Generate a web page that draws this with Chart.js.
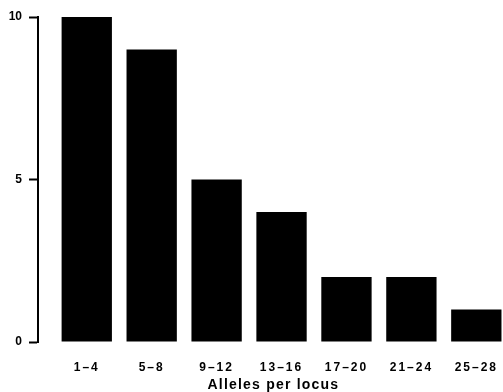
<!DOCTYPE html>
<html>
<head>
<meta charset="utf-8">
<script src="https://cdn.jsdelivr.net/npm/chart.js@4"></script>
<style>
  html, body { margin: 0; padding: 0; background: #fff; overflow: hidden; }
  #wrap { width: 503px; height: 392px; overflow: hidden; }
  canvas { display: block; }
</style>
</head>
<body>
<div id="wrap"><canvas id="c" width="511" height="392"></canvas></div>
<script>
const categories = ["1–4", "5–8", "9–12", "13–16", "17–20", "21–24", "25–28"];
const values = [10, 9, 5, 4, 2, 2, 1];
const yTicks = [0, 5, 10];
const xTitle = "Alleles per locus";

const points = values.map((v, i) => ({ x: i + 1, y: v }));

function spaced(scale, method, spacing) {
  if (scale['_sp_' + method]) return;
  const orig = scale[method].bind(scale);
  scale[method] = function (...args) {
    const ctx = scale.ctx;
    const prev = ctx.letterSpacing;
    ctx.letterSpacing = spacing;
    orig(...args);
    ctx.letterSpacing = prev;
  };
  scale['_sp_' + method] = true;
}

const spacingPlugin = {
  id: 'spacing',
  afterLayout(chart) {
    const x = chart.scales.x;
    spaced(x, 'drawLabels', '2px');
    spaced(x, 'drawTitle', '1.2px');
  }
};

new Chart(document.getElementById('c'), {
  type: 'bar',
  data: {
    datasets: [{
      data: points,
      backgroundColor: '#000',
      borderWidth: 0,
      categoryPercentage: 1,
      barPercentage: 0.775
    }]
  },
  options: {
    responsive: false,
    animation: false,
    events: [],
    layout: { padding: { top: 17, right: 0, bottom: 0, left: 0 } },
    plugins: { legend: { display: false }, tooltip: { enabled: false } },
    scales: {
      x: {
        type: 'linear',
        offset: false,
        min: 0.249,
        max: 7.5,
        afterFit(s) { s.height = 50; },
        grid: { display: false, drawTicks: false, offset: false },
        border: { display: false },
        ticks: {
          stepSize: 1,
          includeBounds: false,
          autoSkip: false,
          maxRotation: 0,
          padding: 18,
          color: '#000',
          font: { family: 'Liberation Sans', weight: 'bold', size: 12 },
          callback: (v) => Number.isInteger(v) && v >= 1 && v <= categories.length ? categories[v - 1] : ''
        },
        title: {
          display: true,
          text: xTitle,
          color: '#000',
          padding: { top: 0, bottom: 0 },
          font: { family: 'Liberation Sans', weight: 'bold', size: 14, lineHeight: 1.0 }
        }
      },
      y: {
        min: 0,
        max: 10,
        afterFit(s) { s.width = 38; },
        afterBuildTicks(s) { s.ticks = yTicks.map(v => ({ value: v })); },
        grid: {
          drawOnChartArea: false,
          drawTicks: true,
          tickLength: 9,
          tickWidth: 2,
          tickColor: '#000'
        },
        border: { display: true, color: '#000', width: 2 },
        ticks: {
          padding: 7,
          color: '#000',
          font: { family: 'Liberation Sans', weight: 'bold', size: 12 }
        }
      }
    }
  },
  plugins: [spacingPlugin]
});
</script>
</body>
</html>
